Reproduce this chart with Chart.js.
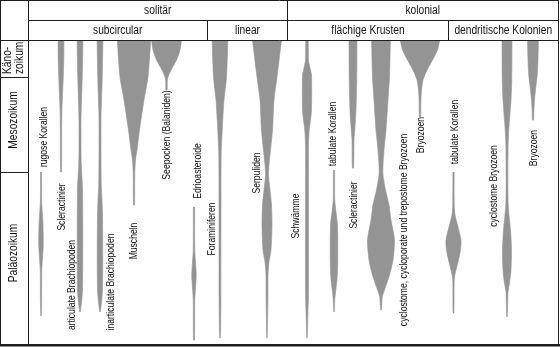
<!DOCTYPE html>
<html><head><meta charset="utf-8">
<script src="https://cdn.jsdelivr.net/npm/chart.js@4.4.0/dist/chart.umd.min.js"></script>
<style>html,body{margin:0;padding:0;background:#fff;overflow:hidden}#wrap{position:relative;width:560px;height:347px}</style>
</head><body><div id="wrap"><canvas id="c" width="560" height="347"></canvas></div>
<script>
// ---- Data (time axis: 0 = heute, 304 = Basis Paläozoikum, in Diagrammeinheiten) ----
const eraNames = [['Käno-', 'zoikum'], ['Mesozoikum'], ['Paläozoikum']];
const eraBounds = [0, 37, 132, 304];
const lifestyles = ['solitär', 'kolonial'];
const growthForms = ['subcircular', 'linear', 'flächige Krusten', 'dendritische Kolonien'];

const taxa = ['rugose Korallen', 'Scleractinier', 'articulate Brachiopoden', 'inarticulate Brachiopoden',
  'Muscheln', 'Seepocken (Balaniden)', 'Edrioasteroide', 'Foraminiferen', 'Serpuliden', 'Schwämme',
  'tabulate Korallen', 'Scleractinier', 'cyclostome, cycloporate und trepostome Bryozoen', 'Bryozoen',
  'tabulate Korallen', 'cyclostome Bryozoen', 'Bryozoen'];
// horizontal slot of each taxon (x-scale units)
const taxonSlot = [13, 33, 52, 72, 106, 138.5, 166, 192, 239, 279, 306, 325, 353, 392, 425.5, 479, 505];

// relative diversity (spindle width) at time t
const rugoseT = [132, 160, 172, 185, 205, 218, 230, 260, 276];
const rugoseW = [1, 1.2, 2.5, 4, 4.5, 3, 1.5, 1.2, 0.4];
const sclerSolT = [-4, 20, 37, 55, 70, 90, 132];
const sclerSolW = [6, 5.5, 4.5, 3, 1.8, 1.3, 0.9];
const artBrachT = [-4, 37, 60, 80, 110, 125, 138, 150, 180, 220, 250, 260, 268, 272];
const artBrachW = [6, 4.5, 3, 2, 2, 2.5, 4, 5, 5.5, 5.5, 5, 3.5, 1.5, 0.4];
const inartBrachT = [-4, 37, 60, 75, 110, 145, 160, 175, 220, 250, 260, 268, 272];
const inartBrachW = [6, 4.5, 3, 2, 2, 2.5, 4, 5, 5.5, 5, 3.5, 1.5, 0.4];
const muschelnT = [-4, 37, 60, 90, 110, 120, 135, 165];
const muschelnW = [34, 28, 20, 11, 6, 3, 1.5, 1];
const seepockenT = [-4, 10, 20, 30, 37, 42, 50];
const seepockenW = [31, 27, 20, 9, 3, 1.5, 1.2];
const edrioT = [167, 210, 222, 235, 248, 260, 300];
const edrioW = [1.2, 1.5, 3, 4.5, 3, 1.5, 1];
const foramT = [-4, 37, 60, 80, 100, 115, 160, 260, 290, 298];
const foramW = [16, 13, 8, 5.5, 3.5, 2.3, 2, 1.8, 1.2, 0.4];
const serpT = [-4, 37, 60, 90, 125, 135, 150, 165, 185, 210, 222, 235, 260, 298];
const serpW = [30, 20, 14, 11, 4, 3, 6, 9, 10, 8, 4, 2, 1.8, 0.4];
const schwT = [-4, 20, 28, 35, 70, 80, 90, 105, 160, 250, 280, 298];
const schwW = [2.5, 3, 6, 9, 9, 7, 4.5, 3, 3, 3, 1.5, 0.4];
const tabKrT = [130, 160, 172, 185, 220, 240, 252, 260, 272];
const tabKrW = [1.2, 1.5, 4, 7, 7.5, 6, 3, 1.5, 0.4];
const sclerKolT = [-4, 40, 70, 90, 100, 128];
const sclerKolW = [8, 7.5, 6, 3.5, 2, 1.2];
const cycTrepT = [-4, 37, 60, 90, 110, 125, 135, 150, 165, 180, 200, 220, 235, 247, 257, 265, 270];
const cycTrepW = [19, 17, 14, 10, 6, 4, 4, 9, 16, 20, 27, 24, 17, 9, 2.5, 1.5, 0.4];
const bryoKrT = [-4, 10, 20, 30, 40, 50, 60, 77];
const bryoKrW = [41, 35, 25, 14, 6, 3, 1.8, 1.2];
const tabDendT = [132, 165, 175, 185, 200, 210, 222, 232, 240, 273];
const tabDendW = [1.2, 1.5, 3, 8, 15, 14, 9, 4, 1.5, 0.8];
const cycBryoT = [-4, 40, 60, 80, 95, 110, 160, 175, 190, 210, 230, 243, 252, 260, 277];
const cycBryoW = [10, 9.5, 8, 5, 3, 2, 2, 4, 7, 9, 8, 5, 2, 1.5, 0.4];
const bryoDendT = [-4, 20, 35, 50, 60, 70, 80];
const bryoDendW = [11, 10, 8.5, 5, 3, 1.8, 1.2];

const profiles = [
  [rugoseT, rugoseW], [sclerSolT, sclerSolW], [artBrachT, artBrachW], [inartBrachT, inartBrachW],
  [muschelnT, muschelnW], [seepockenT, seepockenW], [edrioT, edrioW], [foramT, foramW],
  [serpT, serpW], [schwT, schwW], [tabKrT, tabKrW], [sclerKolT, sclerKolW], [cycTrepT, cycTrepW],
  [bryoKrT, bryoKrW], [tabDendT, tabDendW], [cycBryoT, cycBryoW], [bryoDendT, bryoDendW]
];

// label anchors: [x-scale units, time (centre of label)]
const labelAnchor = [[16, 97], [34, 167], [44, 245], [83, 242], [106, 201], [139, 95], [170, 131],
  [184, 189], [229, 133], [268, 176], [305, 94], [326, 165], [376, 190], [393, 95], [427, 92],
  [466, 146], [506, 108]];
// era label anchors (time units; Känozoikum is bottom-aligned in its cell)
const eraLabelAt = [34, 80, 213];

// ---- Chart ----
const FONT = '"Liberation Sans", Arial, sans-serif';
const GRAY = 'rgb(148,148,148)';
let K = 0.82; // horizontal condensation of the text face

function spindle(center, times, widths) {
  const left = times.map((t, i) => ({x: center - widths[i] / 2, y: t}));
  const right = times.map((t, i) => ({x: center + widths[i] / 2, y: t})).reverse();
  return left.concat(right);
}

const datasets = taxa.map((name, i) => ({
  label: name,
  data: spindle(taxonSlot[i], profiles[i][0], profiles[i][1]),
  showLine: true,
  fill: 'shape',
  backgroundColor: GRAY,
  borderColor: GRAY,
  borderWidth: 0.6,
  pointRadius: 0,
  tension: 0.25
}));

function text(ctx, str, x, y, size, rotated, align) {
  ctx.save();
  ctx.translate(x, y);
  if (rotated) ctx.rotate(-Math.PI / 2);
  ctx.scale(K, 1);
  ctx.font = size + 'px ' + FONT;
  ctx.textAlign = align || 'center';
  ctx.textBaseline = 'middle';
  ctx.fillText(str, 0, 0);
  ctx.restore();
}

const framePlugin = {
  id: 'frame',
  afterDraw(chart) {
    const ctx = chart.ctx;
    const {left, top} = chart.chartArea;
    const ys = chart.scales.y, xs = chart.scales.x;
    ctx.save();
    ctx.font = '10px ' + FONT;
    K = 85 / ctx.measureText('Seepocken (Balaniden)').width;
    ctx.strokeStyle = '#1e1e1e';
    ctx.lineWidth = 1;
    const line = (x1, y1, x2, y2) => { ctx.beginPath(); ctx.moveTo(x1, y1); ctx.lineTo(x2, y2); ctx.stroke(); };
    line(0.5, 0, 0.5, 346); line(558.5, 0, 558.5, 346); line(0, 0.5, 559, 0.5);
    ctx.fillStyle = '#1e1e1e'; ctx.fillRect(0, 344, 560, 2.5);
    line(left + 0.5, 0, left + 0.5, 346);
    line(left, 20.5, 559, 20.5);
    line(0, top + 0.5, 559, top + 0.5);
    const colSplit = 287.5, sub1 = 207.5, sub2 = 448.5;
    line(colSplit, 0, colSplit, top);
    line(sub1, 20, sub1, top);
    line(sub2, 20, sub2, top);
    for (let k = 1; k < eraBounds.length - 1; k++) {
      const yy = Math.round(ys.getPixelForValue(eraBounds[k])) + 0.5;
      line(0, yy, left, yy);
    }
    ctx.fillStyle = '#111';
    text(ctx, lifestyles[0], (left + colSplit) / 2, 10.5, 12.5);
    text(ctx, lifestyles[1], (colSplit + 558) / 2, 10.5, 12.5);
    text(ctx, growthForms[0], (left + sub1) / 2, 30.5, 12.5);
    text(ctx, growthForms[1], (sub1 + colSplit) / 2, 30.5, 12.5);
    text(ctx, growthForms[2], (colSplit + sub2) / 2, 30.5, 12.5);
    text(ctx, growthForms[3], (sub2 + 558) / 2, 30.5, 12.5);
    for (let k = 0; k < eraNames.length; k++) {
      const py = ys.getPixelForValue(eraLabelAt[k]);
      const lines = eraNames[k];
      if (lines.length === 1) {
        text(ctx, lines[0], 14, py, 12.5, true);
      } else {
        text(ctx, lines[0], 8, py, 12.5, true, 'left');
        text(ctx, lines[1], 20, py, 12.5, true, 'left');
      }
    }
    for (let i = 0; i < taxa.length; i++) {
      const px = xs.getPixelForValue(labelAnchor[i][0]);
      const py = ys.getPixelForValue(labelAnchor[i][1]);
      text(ctx, taxa[i], px, py, 10.5, true);
    }
    ctx.restore();
  }
};

new Chart(document.getElementById('c'), {
  type: 'scatter',
  data: {datasets},
  options: {
    responsive: false,
    animation: false,
    events: [],
    layout: {padding: {left: 28, right: 2, top: 40, bottom: 3}},
    scales: {
      x: {type: 'linear', min: 0, max: 530, display: false},
      y: {type: 'linear', min: 0, max: 304, reverse: true, display: false}
    },
    plugins: {legend: {display: false}, tooltip: {enabled: false}}
  },
  plugins: [framePlugin]
});
</script>
</body></html>
